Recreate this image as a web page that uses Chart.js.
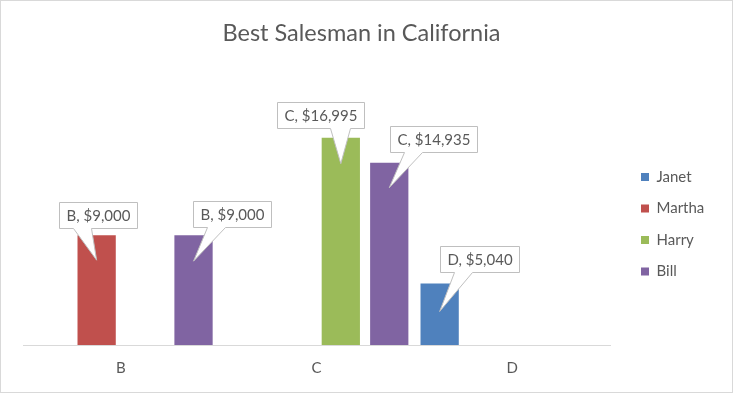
<!DOCTYPE html>
<html>
<head>
<meta charset="utf-8">
<script src="https://cdn.jsdelivr.net/npm/chart.js@4"></script>
<style>
  body { margin: 0; background: #fff; }
  #wrap { width: 733px; height: 393px; }
</style>
</head>
<body>
<div id="wrap"><canvas id="salesChart" width="733" height="393"></canvas></div>
<script>
// Chart data
const categories = ['B', 'C', 'D'];
const janet = [null, null, 5040];
const martha = [9000, null, null];
const harry = [null, 16995, null];
const bill = [9000, 14935, null];

const FONT = 'Lato';
const TEXT = '#595959';

// where each callout box sits relative to its bar (tweaked by eye, like Excel's dragged labels)
const calloutPlace = {
    'Martha-B': { dx: -38, gap: 7, drop: 25 },
    'Bill-B': { dx: -1, gap: 8, drop: 26 },
    'Harry-C': { dx: -64, gap: 10, drop: 26 },
    'Bill-C': { dx: 1, gap: 11, drop: 25 },
    'Janet-D': { dx: 0, gap: 12, drop: 28 }
};

// Draws the callout data labels with a pointer to the bar
const calloutPlugin = {
    id: 'callouts',
    afterDatasetsDraw(chart) {
        const ctx = chart.ctx;
        ctx.save();
        ctx.font = '15px ' + FONT;
        chart.data.datasets.forEach((ds, di) => {
            const meta = chart.getDatasetMeta(di);
            ds.data.forEach((v, i) => {
                if (v == null) return;
                const bar = meta.data[i];
                const place = calloutPlace[ds.label + '-' + categories[i]];
                const text = categories[i] + ', $' + v.toLocaleString('en-US');
                const w = Math.round(ctx.measureText(text).width + 14);
                const h = 26;
                const L = Math.round(bar.x + place.dx) + 0.5;
                const R = L + w;
                const B = Math.round(bar.y - place.gap) + 0.5;
                const T = B - h;
                const tipX = bar.x, tipY = bar.y + place.drop;
                let b1, b2;
                if (tipX > L + w * 0.6) {
                    b1 = R - 34; b2 = R - 14;
                } else {
                    b1 = L + 14; b2 = L + 32;
                }
                ctx.beginPath();
                ctx.moveTo(L, T);
                ctx.lineTo(R, T);
                ctx.lineTo(R, B);
                ctx.lineTo(b2, B);
                ctx.lineTo(tipX, tipY);
                ctx.lineTo(b1, B);
                ctx.lineTo(L, B);
                ctx.closePath();
                ctx.fillStyle = '#ffffff';
                ctx.fill();
                ctx.strokeStyle = '#bfbfbf';
                ctx.lineWidth = 1;
                ctx.stroke();
                ctx.fillStyle = TEXT;
                ctx.textAlign = 'center';
                ctx.textBaseline = 'middle';
                ctx.fillText(text, (L + R) / 2, (T + B) / 2 + 1);
            });
        });
        ctx.restore();
    }
};

// Moves the legend next to the plot and draws the chart border
const framePlugin = {
    id: 'frame',
    afterLayout(chart) {
        const lg = chart.legend;
        const w = lg.width, h = lg.height;
        lg.left = 624.5;
        lg.right = lg.left + w;
        lg.top = 153;
        lg.bottom = lg.top + h;
    },
    afterDraw(chart) {
        const ctx = chart.ctx;
        ctx.save();
        ctx.strokeStyle = '#d9d9d9';
        ctx.lineWidth = 1;
        ctx.strokeRect(0.5, 0.5, chart.width - 1, chart.height - 1);
        ctx.restore();
    }
};

function makeDataset(label, data, color) {
    return {
        label: label,
        data: data,
        backgroundColor: color,
        borderWidth: 0,
        categoryPercentage: 0.99,
        barPercentage: 0.79
    };
}

const ctx = document.getElementById('salesChart').getContext('2d');
const chart = new Chart(ctx, {
    type: 'bar',
    data: {
        labels: categories,
        datasets: [
            makeDataset('Janet', janet, '#4f81bd'),
            makeDataset('Martha', martha, '#c0504d'),
            makeDataset('Harry', harry, '#9bbb59'),
            makeDataset('Bill', bill, '#8064a2')
        ]
    },
    options: {
        responsive: false,
        animation: false,
        layout: {
            padding: { top: 10, left: 23, right: 33, bottom: 2 }
        },
        scales: {
            x: {
                grid: { display: false, drawTicks: false },
                border: { display: true, color: '#d9d9d9', width: 1 },
                ticks: { color: TEXT, font: { family: FONT, size: 15 }, padding: 14 }
            },
            y: {
                display: false,
                min: 0,
                max: 20000
            }
        },
        plugins: {
            title: {
                display: true,
                text: 'Best Salesman in California',
                color: TEXT,
                font: { family: FONT, size: 23.5, weight: 'normal' },
                padding: { top: 9, bottom: 53.8 }
            },
            legend: {
                position: 'right',
                align: 'start',
                labels: {
                    color: TEXT,
                    boxWidth: 8,
                    boxHeight: 8,
                    padding: 16.5,
                    font: { family: FONT, size: 15 }
                }
            },
            tooltip: { enabled: false }
        }
    },
    plugins: [calloutPlugin, framePlugin]
});
</script>
</body>
</html>
